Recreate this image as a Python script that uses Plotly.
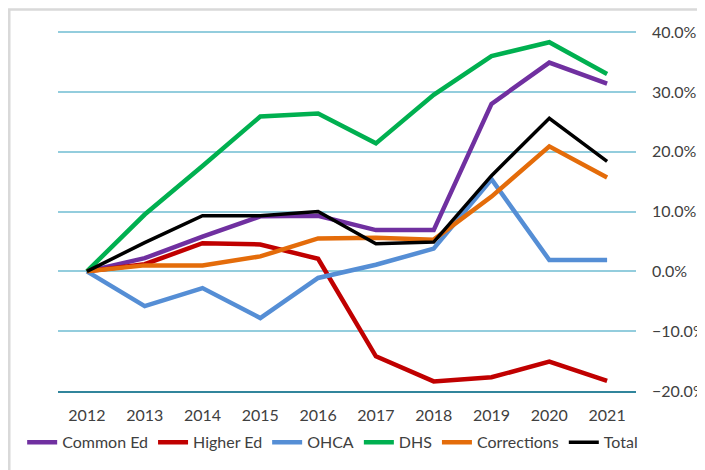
import plotly.graph_objects as go

years = ["2012", "2013", "2014", "2015", "2016", "2017", "2018", "2019", "2020", "2021"]

common_ed = [0.0, 2.2, 5.8, 9.2, 9.3, 6.9, 6.9, 28.0, 34.9, 31.4]
higher_ed = [0.0, 1.2, 4.7, 4.5, 2.1, -14.2, -18.4, -17.7, -15.1, -18.3]
ohca = [0.0, -5.8, -2.8, -7.8, -1.1, 1.1, 3.8, 15.4, 1.9, 1.9]
dhs = [0.0, 9.5, 17.6, 25.9, 26.4, 21.4, 29.5, 36.0, 38.3, 33.0]
corrections = [0.0, 1.0, 1.0, 2.5, 5.5, 5.6, 5.3, 12.5, 20.9, 15.7]
total = [0.0, 4.8, 9.3, 9.3, 10.0, 4.6, 4.9, 16.0, 25.6, 18.4]

y_ticks = [-0.2, -0.1, 0.0, 0.1, 0.2, 0.3, 0.4]

series = [
    ("Common Ed", common_ed, "#7030A0", 4.5),
    ("Higher Ed", higher_ed, "#C00000", 4.5),
    ("OHCA", ohca, "#558ED5", 4.5),
    ("DHS", dhs, "#00B050", 4.5),
    ("Corrections", corrections, "#E46C0A", 4.5),
    ("Total", total, "#000000", 3.5),
]

fig = go.Figure()
for name, vals, color, w in series:
    fig.add_trace(go.Scatter(
        x=years, y=[v / 100 for v in vals], name=name, mode="lines",
        line=dict(color=color, width=w),
    ))

FONT = "Lato, Roboto, Liberation Sans, Arial, sans-serif"

fig.update_layout(
    width=697, height=462,
    margin=dict(l=50, r=69, t=22, b=79, autoexpand=False),
    paper_bgcolor="white", plot_bgcolor="white",
    font=dict(family=FONT, size=16, color="#404040"),
    showlegend=True,
    legend=dict(orientation="h", x=-0.062, xanchor="left", y=-0.142, yanchor="middle",
                font=dict(family=FONT, size=16, color="#404040"),
                itemwidth=30, tracegroupgap=0, bgcolor="rgba(0,0,0,0)"),
    xaxis=dict(type="category", range=[-0.5, 9.5], showgrid=False, showline=True,
               linecolor="#31859C", linewidth=2, ticks="", ticklabelstandoff=9,
               zeroline=False, automargin=False),
    yaxis=dict(side="right", range=[-0.2, 0.4035], tickmode="array", tickvals=y_ticks,
               tickformat=".1%",
               showgrid=True, gridcolor="#93CDDD", gridwidth=2, zeroline=False,
               showline=False, ticks="", ticklabelstandoff=15, automargin=False),
    shapes=[dict(type="rect", xref="paper", yref="paper",
                 x0=-0.0843, x1=1.3, y0=-0.4, y1=1.057,
                 line=dict(color="#D9D9D9", width=2.5), fillcolor="rgba(0,0,0,0)",
                 layer="below")],
)

fig.write_html("out.html")
